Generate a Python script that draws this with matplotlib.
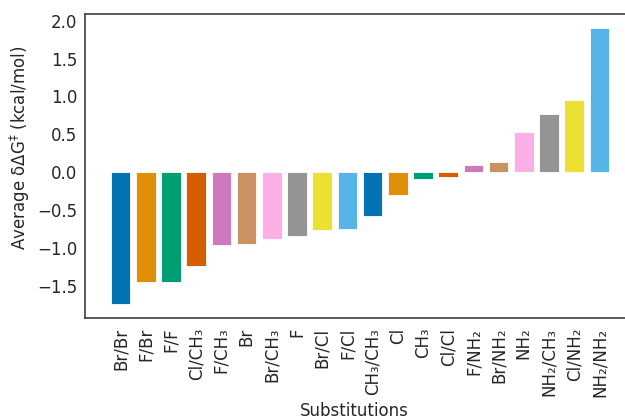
import matplotlib
matplotlib.use("Agg")
import matplotlib.pyplot as plt
import seaborn as sns

categories = ["Br/Br", "F/Br", "F/F", "Cl/CH₃", "F/CH₃", "Br", "Br/CH₃", "F",
              "Br/Cl", "F/Cl", "CH₃/CH₃", "Cl", "CH₃", "Cl/Cl", "F/NH₂",
              "Br/NH₂", "NH₂", "NH₂/CH₃", "Cl/NH₂", "NH₂/NH₂"]
values = [-1.75, -1.45, -1.45, -1.245, -0.97, -0.95, -0.89, -0.85,
          -0.76, -0.75, -0.58, -0.30, -0.09, -0.06, 0.10,
          0.13, 0.525, 0.77, 0.955, 1.905]
yticks = [-1.5, -1.0, -0.5, 0.0, 0.5, 1.0, 1.5, 2.0]

sns.set_theme(style="white")
plt.rcParams["font.family"] = ["DejaVu Sans"]

palette = sns.color_palette("colorblind", 10)
colors = [palette[i % 10] for i in range(len(categories))]

fig = plt.figure(figsize=(6.25, 4.19), dpi=100)
ax = fig.add_axes([0.136, 0.241, 0.88, 0.7255])

x = list(range(len(categories)))
ax.bar(x, values, width=0.78, color=colors, edgecolor="white", linewidth=0.6)

ax.set_xlim(-1.41, 20.41)
ax.set_ylim(-1.93, 2.09)
ax.set_yticks(yticks)
ax.set_yticklabels([f"{v:.1f}".replace("-", "\u2212") for v in yticks], fontsize=12)
ax.set_xticks(x)
ax.set_xticklabels(categories, rotation=90, fontsize=12)
ax.tick_params(axis="y", length=0, pad=5.5)
ax.tick_params(axis="x", length=0, pad=7)

ax.set_ylabel("Average δΔG$^{‡}$ (kcal/mol)", fontsize=12)
ax.yaxis.set_label_coords(-0.096, 0.561)
ax.set_xlabel("Substitutions", fontsize=12, va="baseline")
ax.xaxis.set_label_coords(0.49, -0.322)

for s in ax.spines.values():
    s.set_color("0.25")
    s.set_linewidth(1.2)
ax.spines["right"].set_visible(False)

fig.savefig("out.png", dpi=100)
